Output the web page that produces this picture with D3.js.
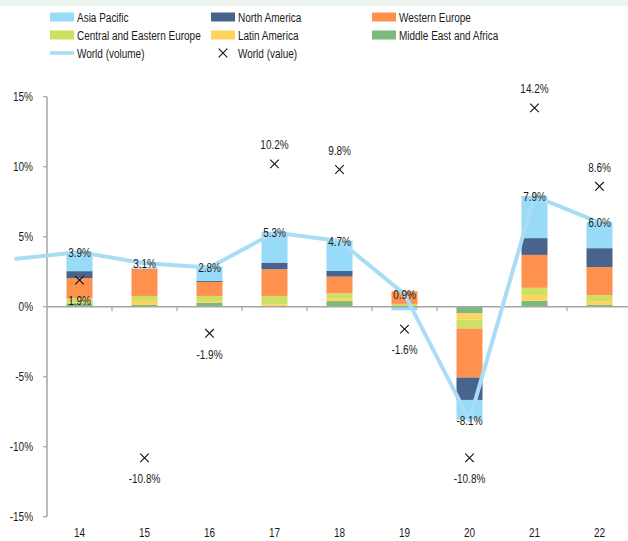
<!DOCTYPE html>
<html>
<head>
<meta charset="utf-8">
<script src="https://cdn.jsdelivr.net/npm/d3@7"></script>
<style>
  body { margin: 0; background: #fff; }
  svg { display: block; font-family: "Liberation Sans", Arial, sans-serif; }
</style>
</head>
<body>
<div class="chart"></div>
<script>
const years = ["14", "15", "16", "17", "18", "19", "20", "21", "22"];

// regional contributions, % pts
const asiaPacific    = [1.4, 0.1, 1.0, 2.2, 2.15, -0.25, -1.4, 3.0, 1.85];
const northAmerica   = [0.5, 0, 0.07, 0.48, 0.4, 0, -1.6, 1.2, 1.35];
const westernEurope  = [1.45, 1.95, 1.0, 1.9, 1.2, 0.9, -3.5, 2.35, 2.0];
const centralEastern = [0.3, 0.36, 0.36, 0.6, 0.36, 0.15, -0.65, 0.52, 0.43];
const latinAmerica   = [0.05, 0.29, 0.12, 0.12, 0.19, 0.05, -0.43, 0.4, 0.28];
const middleEast     = [0.24, 0.12, 0.29, 0.05, 0.4, 0, -0.48, 0.43, 0.12];

const worldVolume = [3.9, 3.1, 2.8, 5.3, 4.7, 0.9, -8.1, 7.9, 6.0];
const worldValue  = [1.9, -10.8, -1.9, 10.2, 9.8, -1.6, -10.8, 14.2, 8.6];
const volumePrev  = 3.4; // 2013, runs off the left edge

const yTicks = [15, 10, 5, 0, -5, -10, -15];

const series = [
  { key: "middleEast",     name: "Middle East and Africa",     color: "#7db97a", values: middleEast },
  { key: "latinAmerica",   name: "Latin America",              color: "#ffd35c", values: latinAmerica },
  { key: "centralEastern", name: "Central and Eastern Europe", color: "#cfdf64", values: centralEastern },
  { key: "westernEurope",  name: "Western Europe",             color: "#ff914f", values: westernEurope },
  { key: "northAmerica",   name: "North America",              color: "#48648d", values: northAmerica },
  { key: "asiaPacific",    name: "Asia Pacific",               color: "#98dbf8", values: asiaPacific }
];

const w = 628, h = 541;
const margin = { top: 97, right: -4, bottom: 24, left: 47 };
const fs = 13.5, squeeze = 0.74; // narrow font look

const svg = d3.select(".chart").append("svg")
  .attr("width", w)
  .attr("height", h);

// squeezed text helper
function txt(sel, fx, fy) {
  return sel
    .attr("transform", (d, i) => "translate(" + fx(d, i) + "," + fy(d, i) + ") scale(" + squeeze + ",1)")
    .attr("dy", "0.35em")
    .attr("font-size", fs)
    .attr("fill", "#1a1a1a");
}

svg.append("rect")
  .attr("x", 0).attr("y", 0)
  .attr("width", w).attr("height", 6)
  .attr("fill", "#eef4ee");

const x = d3.scaleBand()
  .domain(years)
  .range([margin.left, w - margin.right])
  .paddingInner(0.6)
  .paddingOuter(0.3);

const y = d3.scaleLinear()
  .domain([-15, 15])
  .range([h - margin.bottom - 0.3, margin.top - 0.3]);

const table = years.map((yr, i) => {
  const row = { year: yr };
  series.forEach(s => row[s.key] = s.values[i]);
  return row;
});

const stack = d3.stack()
  .keys(series.map(s => s.key))
  .offset(d3.stackOffsetDiverging);

const stacked = stack(table);

// axes
const axisColor = "#a6a6a6";
svg.append("line")
  .attr("x1", margin.left).attr("x2", margin.left)
  .attr("y1", y(15)).attr("y2", y(-15))
  .attr("stroke", axisColor).attr("stroke-width", 1.5);

svg.selectAll(".ytick").data(yTicks).enter().append("line")
  .attr("x1", margin.left - 4).attr("x2", margin.left)
  .attr("y1", d => y(d)).attr("y2", d => y(d))
  .attr("stroke", axisColor).attr("stroke-width", 1.2);

txt(svg.selectAll(".ylab").data(yTicks).enter().append("text"), () => 33, d => y(d))
  .attr("text-anchor", "end")
  .text(d => d + "%");

// bars
svg.append("g").selectAll("g")
  .data(stacked)
  .enter().append("g")
    .attr("fill", (d, i) => series[i].color)
  .selectAll("rect")
  .data(d => d)
  .enter().append("rect")
    .attr("x", d => x(d.data.year))
    .attr("width", x.bandwidth())
    .attr("y", d => y(Math.max(d[0], d[1])))
    .attr("height", d => Math.abs(y(d[0]) - y(d[1])));

// zero line + category ticks
svg.append("line")
  .attr("x1", margin.left).attr("x2", w)
  .attr("y1", y(0)).attr("y2", y(0))
  .attr("stroke", axisColor).attr("stroke-width", 1.5);

svg.selectAll(".xtick").data(years.slice(1)).enter().append("line")
  .attr("x1", d => x(d) + x.bandwidth() / 2 - x.step() / 2)
  .attr("x2", d => x(d) + x.bandwidth() / 2 - x.step() / 2)
  .attr("y1", y(0)).attr("y2", y(0) + 4.5)
  .attr("stroke", axisColor).attr("stroke-width", 1.2);

const cx = d => x(d) + x.bandwidth() / 2;

txt(svg.selectAll(".xlab").data(years).enter().append("text"), d => cx(d), () => 532)
  .attr("text-anchor", "middle")
  .text(d => d);

// world volume line
const linePts = [[cx(years[0]) - x.step(), y(volumePrev)]]
  .concat(years.map((yr, i) => [cx(yr), y(worldVolume[i])]));

svg.append("path")
  .attr("d", d3.line()(linePts))
  .attr("fill", "none")
  .attr("stroke", "#a9ddf5")
  .attr("stroke-width", 4)
  .attr("stroke-linejoin", "round");

// world value markers
const cross = d3.symbol().type(d3.symbolTimes).size(50);
svg.selectAll(".mark").data(worldValue).enter().append("path")
  .attr("d", cross)
  .attr("transform", (d, i) => "translate(" + cx(years[i]) + "," + y(d) + ")")
  .attr("fill", "none")
  .attr("stroke", "#111")
  .attr("stroke-width", 1.1);

// labels
txt(svg.selectAll(".vlab").data(worldValue).enter().append("text"),
    (d, i) => cx(years[i]),
    (d, i) => y(d) + ((d < 0 || i === 0) ? 20.5 : -19.5))
  .attr("text-anchor", "middle")
  .text(d => d.toFixed(1) + "%");

txt(svg.selectAll(".llab").data(worldVolume).enter().append("text"),
    (d, i) => cx(years[i]),
    d => y(d))
  .attr("text-anchor", "middle")
  .text(d => d.toFixed(1) + "%");

// legend
const legendItems = [
  { name: "Asia Pacific", color: "#98dbf8", col: 0, row: 0 },
  { name: "North America", color: "#48648d", col: 1, row: 0 },
  { name: "Western Europe", color: "#ff914f", col: 2, row: 0 },
  { name: "Central and Eastern Europe", color: "#cfdf64", col: 0, row: 1 },
  { name: "Latin America", color: "#ffd35c", col: 1, row: 1 },
  { name: "Middle East and Africa", color: "#7db97a", col: 2, row: 1 }
];
const colX = [50, 211, 372];
const rowY = [17, 35, 53];

const legend = svg.append("g");
legend.selectAll("rect").data(legendItems).enter().append("rect")
  .attr("x", d => colX[d.col]).attr("y", d => rowY[d.row] - 4.5)
  .attr("width", 24).attr("height", 9)
  .attr("fill", d => d.color);

txt(legend.selectAll(".ltxt").data(legendItems).enter().append("text"),
    d => colX[d.col] + 27, d => rowY[d.row])
  .text(d => d.name);

legend.append("line")
  .attr("x1", colX[0]).attr("x2", colX[0] + 24)
  .attr("y1", rowY[2]).attr("y2", rowY[2])
  .attr("stroke", "#a9ddf5").attr("stroke-width", 3.5);

legend.append("path")
  .attr("d", cross)
  .attr("transform", "translate(" + (colX[1] + 12) + "," + rowY[2] + ")")
  .attr("fill", "none")
  .attr("stroke", "#111")
  .attr("stroke-width", 1.1);

txt(legend.selectAll(".wtxt").data(["World (volume)", "World (value)"]).enter().append("text"),
    (d, i) => colX[i] + 27, () => rowY[2])
  .text(d => d);
</script>
</body>
</html>
